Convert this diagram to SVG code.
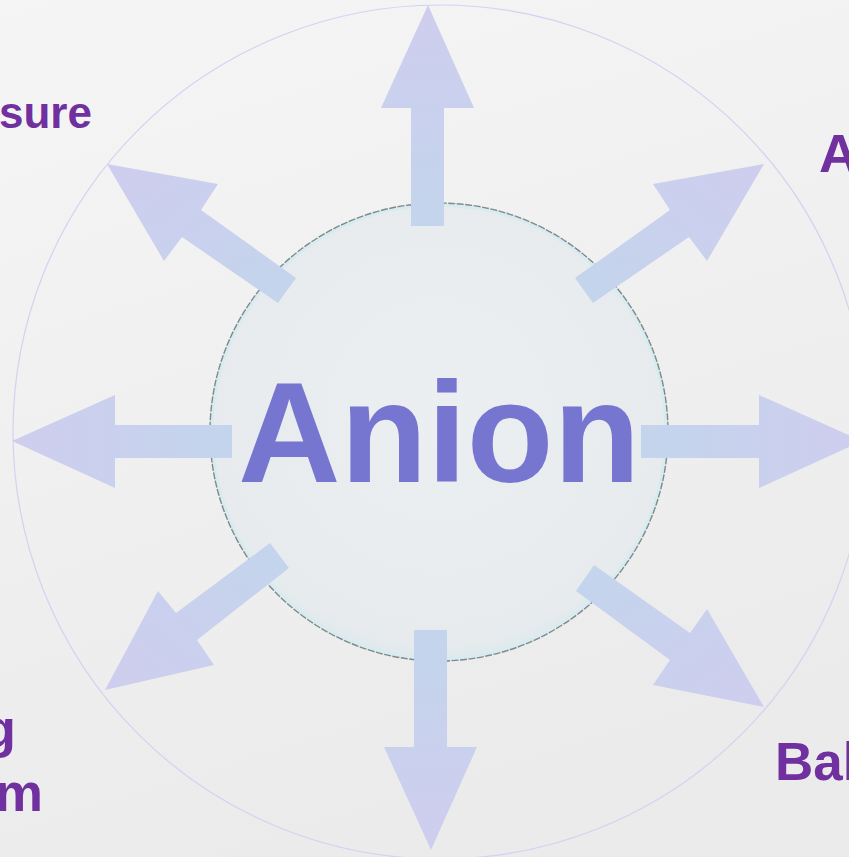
<svg xmlns="http://www.w3.org/2000/svg" width="849" height="857" viewBox="0 0 849 857">
  <defs>
    <linearGradient id="bg" x1="0" y1="0" x2="0.3" y2="1">
      <stop offset="0" stop-color="#f5f5f5"/>
      <stop offset="1" stop-color="#ebebeb"/>
    </linearGradient>
    <radialGradient id="disc" cx="0.5" cy="0.45" r="0.55">
      <stop offset="0" stop-color="#eceff2"/>
      <stop offset="0.92" stop-color="#e7ebee"/>
      <stop offset="1" stop-color="#dfe9ec"/>
    </radialGradient>
    <linearGradient id="gN" x1="0" y1="1" x2="0" y2="0"><stop offset="0" stop-color="#c3d5ec"/><stop offset="1" stop-color="#cfcdef"/></linearGradient>
    <linearGradient id="gS" x1="0" y1="0" x2="0" y2="1"><stop offset="0" stop-color="#c3d5ec"/><stop offset="1" stop-color="#cfcdef"/></linearGradient>
    <linearGradient id="gW" x1="1" y1="0" x2="0" y2="0"><stop offset="0" stop-color="#c3d5ec"/><stop offset="1" stop-color="#cfcdef"/></linearGradient>
    <linearGradient id="gE" x1="0" y1="0" x2="1" y2="0"><stop offset="0" stop-color="#c3d5ec"/><stop offset="1" stop-color="#cfcdef"/></linearGradient>
    <linearGradient id="gNE" x1="0" y1="1" x2="1" y2="0"><stop offset="0" stop-color="#c3d5ec"/><stop offset="1" stop-color="#cfcdef"/></linearGradient>
    <linearGradient id="gNW" x1="1" y1="1" x2="0" y2="0"><stop offset="0" stop-color="#c3d5ec"/><stop offset="1" stop-color="#cfcdef"/></linearGradient>
    <linearGradient id="gSE" x1="0" y1="0" x2="1" y2="1"><stop offset="0" stop-color="#c3d5ec"/><stop offset="1" stop-color="#cfcdef"/></linearGradient>
    <linearGradient id="gSW" x1="1" y1="0" x2="0" y2="1"><stop offset="0" stop-color="#c3d5ec"/><stop offset="1" stop-color="#cfcdef"/></linearGradient>
  </defs>
  <style>
    .label { font-family: "Liberation Sans", Arial, sans-serif; font-weight: bold; fill: #7030a0; }
    .center { font-family: "Liberation Sans", Arial, sans-serif; font-weight: bold; fill: #7676d1; }
    .ring { fill: none; stroke: #d2d2f2; stroke-width: 1.2; }
  </style>

  <rect x="0" y="0" width="849" height="857" fill="url(#bg)"/>

  <g id="outer-ring">
    <circle class="ring" cx="440" cy="432" r="427"/>
  </g>

  <g id="hub">
    <circle cx="439" cy="432" r="229" fill="url(#disc)"/>
    <circle cx="439" cy="432" r="227" fill="none" stroke="#d6ecef" stroke-width="3"/>
    <circle cx="439" cy="432" r="229" fill="none" stroke="#7f888d" stroke-width="1.4" stroke-dasharray="7 1.5"/>
  </g>

  <g id="connectors">
    <polygon fill="url(#gN)" points="411,226 411,108 381,108 428,5 474,108 444,108 444,226"/>
    <polygon fill="url(#gS)" points="414,630 447,630 447,747 477,747 431,850 384,747 414,747"/>
    <polygon fill="url(#gW)" points="232,425 232,458 115,458 115,488 12,441 115,395 115,425"/>
    <polygon fill="url(#gE)" points="641,425 759,425 759,395 862,441 759,488 759,458 641,458"/>
    <polygon fill="url(#gNE)" points="575,278 670,210 653,184 764,164 707,261 689,237 593,303"/>
    <polygon fill="url(#gNW)" points="296,278 201,210 218,184 107,164 164,261 182,237 278,303"/>
    <polygon fill="url(#gSE)" points="594,565 690,633 707,609 764,707 653,685 670,660 576,591"/>
    <polygon fill="url(#gSW)" points="270,543 289,568 197,640 214,665 105,690 158,591 176,613"/>
  </g>

  <g id="anion">
    <text class="center" x="238" y="482" font-size="142">Anion</text>
  </g>

  <g id="label-top-left">
    <text class="label" x="-1" y="128" font-size="44">sure</text>
  </g>
  <g id="label-top-right">
    <text class="label" x="819" y="172" font-size="54">A</text>
  </g>
  <g id="label-bottom-left">
    <text class="label" x="16" y="747" font-size="54" text-anchor="end">g</text>
    <text class="label" x="43" y="811" font-size="54" text-anchor="end">m</text>
  </g>
  <g id="label-bottom-right">
    <text class="label" x="775" y="780" font-size="53">Bal</text>
  </g>
</svg>
